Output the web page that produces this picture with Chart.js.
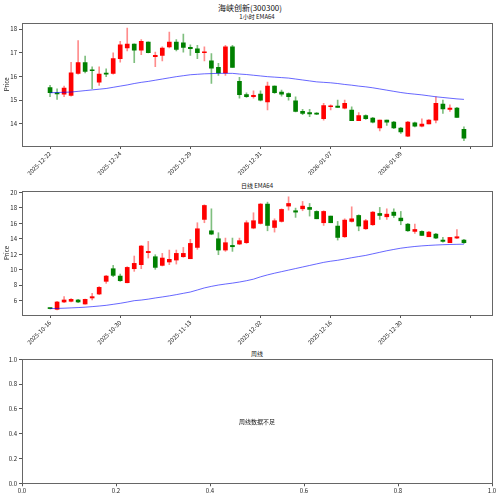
<!DOCTYPE html>
<html>
<head>
<meta charset="utf-8">
<script src="https://cdn.jsdelivr.net/npm/chart.js@4.4.1/dist/chart.umd.min.js"></script>
<style>
  body { margin: 0; width: 500px; height: 497px; position: relative; background: #fff; overflow: hidden;
         font-family: "Noto Sans CJK SC", "DejaVu Sans", sans-serif; }
  .t { position: absolute; text-align: center; color: #111; white-space: nowrap; }
  canvas { position: absolute; left: 0; }
</style>
</head>
<body>
<div class="t" style="left:0;width:500px;top:3px;font-size:8px;line-height:10px;">海峡创新(300300)</div>
<div class="t" style="left:22px;width:470px;top:13.2px;font-size:6px;line-height:7px;">1小时 EMA64</div>
<div class="t" style="left:22px;width:470px;top:181.5px;font-size:6px;line-height:7px;">日线 EMA64</div>
<div class="t" style="left:22px;width:470px;top:350px;font-size:6px;line-height:7px;">周线</div>

<canvas id="hourChart" width="500" height="175" style="top:0"></canvas>
<canvas id="dayChart" width="500" height="170" style="top:175px"></canvas>
<canvas id="weekChart" width="500" height="152" style="top:345px"></canvas>

<script>
// 1小时 K线 (60 根)
const hourTicks = ['2025-12-22', '2025-12-24', '2025-12-29', '2025-12-31', '2026-01-07', '2026-01-09', ''];
const hourOpen  = [15.53, 15.28, 15.25, 15.20, 16.13, 16.58, 16.26, 15.76, 16.13, 16.13,
                   16.75, 17.20, 17.37, 17.11, 17.45, 16.83, 16.89, 17.25, 17.45, 17.42,
                   17.23, 17.17, 17.00, 16.66, 16.38, 16.15, 17.25, 15.79, 15.23, 15.14,
                   15.25, 14.92, 15.59, 15.34, 15.28, 14.97, 14.52, 14.47, 14.45, 14.21,
                   14.72, 14.75, 14.66, 14.58, 14.13, 14.35, 14.24, 13.82, 14.15, 14.07,
                   13.82, 13.48, 14.04, 13.90, 13.99, 14.15, 14.83, 14.61, 14.66, 13.76];
const hourClose = [15.31, 15.26, 15.51, 16.15, 16.59, 16.21, 16.24, 16.10, 16.10, 16.75,
                   17.34, 17.37, 17.11, 17.48, 17.00, 16.89, 17.20, 17.45, 17.14, 17.23,
                   17.17, 17.00, 17.03, 16.35, 16.15, 17.25, 16.38, 15.23, 15.14, 15.20,
                   15.00, 15.59, 15.31, 15.25, 15.14, 14.52, 14.44, 14.42, 14.41, 14.77,
                   14.75, 14.69, 14.86, 14.13, 14.35, 14.21, 14.07, 14.15, 14.07, 13.82,
                   13.65, 14.07, 13.90, 13.99, 14.15, 14.86, 14.63, 14.66, 14.27, 13.39];
const hourHigh  = [15.62, 15.48, 15.59, 16.60, 17.51, 16.86, 16.41, 16.41, 16.32, 17.00,
                   17.48, 18.04, 17.38, 17.56, 17.46, 17.03, 17.25, 17.87, 17.56, 17.79,
                   17.34, 17.31, 17.25, 16.97, 16.55, 17.31, 17.31, 15.96, 15.31, 15.39,
                   15.39, 15.76, 15.60, 15.42, 15.31, 15.14, 14.61, 14.61, 14.47, 14.86,
                   14.80, 15.00, 15.00, 14.72, 14.47, 14.38, 14.27, 14.15, 14.15, 14.10,
                   13.85, 14.10, 14.07, 14.21, 14.18, 15.14, 15.00, 14.80, 14.69, 13.87];
const hourLow   = [15.14, 15.03, 15.14, 15.17, 16.10, 16.15, 15.48, 15.62, 15.99, 16.10,
                   16.60, 17.08, 16.58, 16.92, 16.99, 16.41, 16.66, 17.20, 17.08, 17.03,
                   16.89, 16.75, 16.66, 15.70, 16.04, 16.04, 16.38, 15.08, 15.11, 15.08,
                   14.97, 14.58, 15.28, 15.17, 15.00, 14.50, 14.38, 14.30, 14.38, 14.15,
                   14.58, 14.69, 14.63, 14.13, 14.13, 14.18, 14.04, 13.70, 13.93, 13.79,
                   13.59, 13.45, 13.87, 13.87, 13.99, 14.04, 14.44, 14.52, 14.27, 13.28];
const hourEma   = [15.31, 15.32, 15.33, 15.34, 15.37, 15.40, 15.43, 15.46, 15.49, 15.54,
                   15.59, 15.64, 15.70, 15.75, 15.79, 15.84, 15.89, 15.94, 15.99, 16.03,
                   16.07, 16.09, 16.11, 16.12, 16.13, 16.13, 16.13, 16.10, 16.08, 16.05,
                   16.02, 15.99, 15.97, 15.95, 15.93, 15.89, 15.85, 15.81, 15.77, 15.75,
                   15.73, 15.70, 15.66, 15.63, 15.59, 15.56, 15.52, 15.47, 15.42, 15.37,
                   15.32, 15.28, 15.25, 15.22, 15.18, 15.14, 15.11, 15.08, 15.05, 15.03];

// 日线 K线 (60 根)
const dayTicks = ['2025-10-16', '2025-10-30', '2025-11-13', '2025-12-02', '2025-12-16', '2025-12-30', ''];
const dayOpen  = [5.02, 4.88, 5.83, 5.92, 6.09, 5.57, 6.35, 6.86, 8.50, 10.13,
                  9.18, 8.32, 10.13, 10.65, 12.20, 11.68, 10.56, 11.00, 11.25, 11.68,
                  11.42, 12.88, 16.50, 15.03, 14.00, 12.54, 13.14, 13.32, 13.49, 15.38,
                  15.98, 18.48, 15.46, 16.24, 18.22, 17.62, 17.87, 18.05, 17.53, 16.07,
                  16.93, 15.64, 14.26, 16.24, 17.01, 15.29, 15.81, 17.27, 16.84, 17.44,
                  16.67, 15.89, 14.95, 14.95, 14.26, 14.60, 13.83, 13.49, 14.09, 13.83];
const dayClose = [4.98, 5.83, 6.09, 6.17, 5.83, 6.17, 6.52, 7.72, 9.18, 9.27,
                  8.58, 10.30, 10.82, 13.06, 12.37, 10.30, 11.51, 11.34, 12.11, 12.11,
                  13.40, 15.29, 18.30, 14.60, 12.54, 13.49, 12.97, 13.75, 16.07, 16.33,
                  18.48, 15.72, 16.33, 17.79, 18.56, 17.44, 18.22, 17.79, 16.58, 17.53,
                  16.07, 14.17, 16.41, 16.58, 15.64, 16.33, 17.44, 17.01, 17.18, 17.01,
                  16.32, 15.03, 15.20, 14.43, 14.86, 14.09, 13.66, 14.17, 14.26, 13.49];
const dayHigh  = [5.05, 5.92, 6.52, 6.26, 6.17, 6.20, 6.95, 7.81, 9.27, 10.56,
                  9.44, 10.39, 11.77, 13.14, 13.66, 11.94, 12.11, 12.54, 12.54, 12.88,
                  13.92, 16.07, 18.39, 17.87, 14.78, 14.09, 14.09, 14.09, 16.33, 17.36,
                  18.56, 18.73, 16.58, 17.87, 19.42, 17.96, 18.82, 18.56, 17.62, 17.62,
                  16.93, 16.24, 16.58, 18.13, 17.10, 16.50, 17.53, 18.05, 17.87, 17.87,
                  17.53, 15.98, 15.89, 15.03, 14.95, 14.69, 14.17, 14.17, 15.20, 13.92];
const dayLow   = [4.95, 4.80, 5.74, 5.83, 5.74, 5.55, 6.09, 6.78, 8.24, 9.10,
                  8.50, 8.30, 9.79, 10.13, 11.51, 10.05, 10.48, 10.65, 10.73, 11.60,
                  11.42, 12.63, 16.07, 14.52, 11.94, 12.37, 12.37, 13.23, 13.40, 15.29,
                  15.90, 15.03, 14.86, 16.15, 17.70, 16.76, 17.62, 16.93, 16.58, 15.72,
                  16.07, 13.83, 14.17, 16.15, 15.03, 15.20, 15.72, 16.50, 16.50, 16.75,
                  15.81, 14.95, 14.69, 14.43, 14.26, 14.00, 13.57, 13.49, 14.00, 13.40];
const dayEma   = [4.97, 5.00, 5.03, 5.07, 5.11, 5.16, 5.23, 5.31, 5.40, 5.53,
                  5.66, 5.82, 6.00, 6.08, 6.20, 6.35, 6.48, 6.62, 6.78, 6.95,
                  7.12, 7.38, 7.65, 7.85, 8.02, 8.15, 8.27, 8.41, 8.58, 8.78,
                  9.08, 9.33, 9.55, 9.75, 9.95, 10.15, 10.35, 10.55, 10.75, 10.95,
                  11.10, 11.22, 11.38, 11.55, 11.70, 11.85, 12.05, 12.25, 12.45, 12.62,
                  12.78, 12.90, 13.00, 13.08, 13.14, 13.19, 13.23, 13.26, 13.28, 13.30];

const weekTicks = [0, 0.2, 0.4, 0.6, 0.8, 1.0];
const weekMsg = '周线数据不足';

const FONT = '"Noto Sans CJK SC", "DejaVu Sans", sans-serif';
const UP = '#ff0000', DOWN = '#008000';
const UP_WICK = 'rgba(255,0,0,0.45)', DOWN_WICK = 'rgba(0,128,0,0.5)';

const frame = {
  id: 'frame',
  afterDraw(chart) {
    const { ctx, chartArea: a } = chart;
    ctx.save();
    ctx.strokeStyle = '#666';
    ctx.lineWidth = 1;
    ctx.strokeRect(Math.round(a.left) + 0.5, Math.round(a.top) + 0.5,
                   Math.round(a.right - a.left), Math.round(a.bottom - a.top));
    ctx.restore();
  }
};

const tickGrid = { drawOnChartArea: false, drawTicks: true, tickLength: 3, tickColor: '#555', offset: false };

function candleSets(open, high, low, close, ema) {
  const idx = open.map((_, i) => i);
  const up = idx.map(i => close[i] >= open[i]);
  return [
    {
      type: 'bar', order: 2, grouped: false, barThickness: 1,
      data: idx.map(i => ({ x: i, y: [low[i], high[i]] })),
      backgroundColor: up.map(u => u ? UP_WICK : DOWN_WICK)
    },
    {
      type: 'bar', order: 1, grouped: false, barThickness: 4, minBarLength: 1,
      data: idx.map(i => ({ x: i, y: [open[i], close[i]] })),
      backgroundColor: up.map(u => u ? UP : DOWN)
    },
    {
      type: 'line', order: 0,
      data: idx.map(i => ({ x: i, y: ema[i] })),
      borderColor: 'rgba(0,0,255,0.6)', borderWidth: 1, pointRadius: 0, tension: 0
    }
  ];
}

function candleChart(id, sets, labels, yMin, yMax, yTicks, pad, xHeight) {
  return new Chart(document.getElementById(id), {
    type: 'bar',
    data: { datasets: sets },
    options: {
      responsive: false,
      animation: false,
      layout: { padding: pad },
      plugins: { legend: { display: false }, tooltip: { enabled: false } },
      scales: {
        x: {
          type: 'linear', min: -4, max: 63, offset: false,
          afterBuildTicks: s => { s.ticks = labels.map((_, i) => ({ value: i * 10 })); },
          afterFit: s => { s.height = xHeight; },
          grid: tickGrid,
          border: { display: false },
          ticks: {
            minRotation: 45, maxRotation: 45, autoSkip: false, padding: 1,
            font: { size: 6, family: FONT }, color: '#222',
            callback: (v, i) => labels[i]
          }
        },
        y: {
          min: yMin, max: yMax,
          afterBuildTicks: s => { s.ticks = yTicks.map(v => ({ value: v })); },
          afterFit: s => { s.width = 22; },
          grid: tickGrid,
          border: { display: false },
          title: { display: true, text: 'Price', font: { size: 6, family: FONT }, color: '#222', padding: { top: 3, bottom: 0 } },
          ticks: { padding: 2, font: { size: 6, family: FONT }, color: '#222', callback: v => String(v) }
        }
      }
    },
    plugins: [frame]
  });
}

candleChart('hourChart', candleSets(hourOpen, hourHigh, hourLow, hourClose, hourEma),
  hourTicks, 13.06, 18.27, [14, 15, 16, 17, 18], { top: 22.7, right: 8, left: 0, bottom: 0 }, 29);

candleChart('dayChart', candleSets(dayOpen, dayHigh, dayLow, dayClose, dayEma),
  dayTicks, 4.15, 20.17, [6, 8, 10, 12, 14, 16, 18, 20], { top: 16, right: 8, left: 0, bottom: 0 }, 30);

// 周线: 空坐标轴 + 提示文字
const centerText = {
  id: 'centerText',
  afterDraw(chart) {
    const { ctx, chartArea: a } = chart;
    ctx.save();
    ctx.font = '6px ' + FONT;
    ctx.fillStyle = '#111';
    ctx.textAlign = 'center';
    ctx.textBaseline = 'middle';
    ctx.fillText(weekMsg, (a.left + a.right) / 2, (a.top + a.bottom) / 2);
    ctx.restore();
  }
};

new Chart(document.getElementById('weekChart'), {
  type: 'line',
  data: { datasets: [] },
  options: {
    responsive: false,
    animation: false,
    layout: { padding: { top: 14.3, right: 8, left: 0, bottom: 0 } },
    plugins: { legend: { display: false }, tooltip: { enabled: false } },
    scales: {
      x: {
        type: 'linear', min: 0, max: 1,
        afterBuildTicks: s => { s.ticks = weekTicks.map(v => ({ value: v })); },
        afterFit: s => { s.height = 13.7; },
        grid: tickGrid,
        border: { display: false },
        ticks: { maxRotation: 0, padding: 1, font: { size: 6, family: FONT }, color: '#222', callback: v => v.toFixed(1) }
      },
      y: {
        type: 'linear', min: 0, max: 1,
        afterBuildTicks: s => { s.ticks = weekTicks.map(v => ({ value: v })); },
        afterFit: s => { s.width = 22; },
        grid: tickGrid,
        border: { display: false },
        ticks: { padding: 2, font: { size: 6, family: FONT }, color: '#222', callback: v => v.toFixed(1) }
      }
    }
  },
  plugins: [frame, centerText]
});
</script>
</body>
</html>
